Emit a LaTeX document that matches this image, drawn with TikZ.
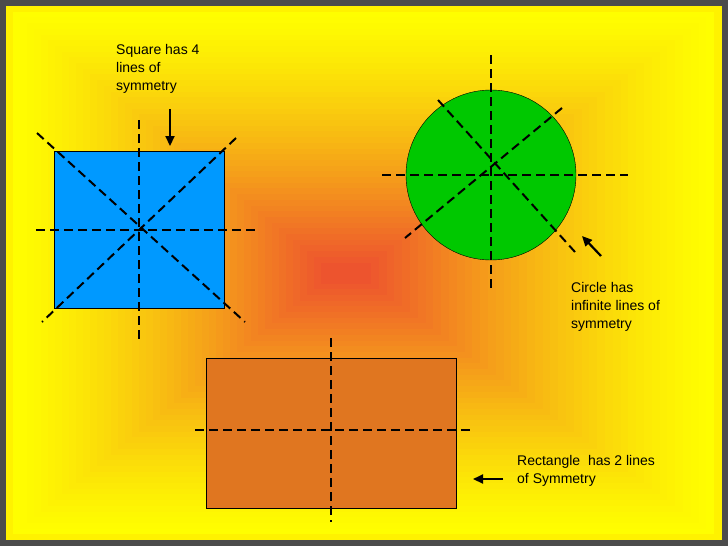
\documentclass[tikz,border=0pt]{standalone}
\usepackage{fontspec}
\setmainfont{Liberation Sans}
\usetikzlibrary{arrows.meta}
\begin{document}
\begin{tikzpicture}[x=1pt,y=-1pt,
  sym/.style={line width=2pt,dash pattern=on 9pt off 5pt},
  lbl/.style={anchor=north west,align=left,font=\fontsize{14}{18}\selectfont,inner sep=0pt},
  arr/.style={-{Triangle[length=10pt,width=9pt]},line width=2.2pt}]
\useasboundingbox (0,0) rectangle (728,546);
\fill[gray!60!black] (0,0) rectangle (728,546);
\fill[yellow] (6,6) rectangle (722,540);
\definecolor{cen}{rgb}{0.93,0.33,0.18}
\foreach \i in {0,...,45}{
  \pgfmathsetmacro{\p}{(\i/45)^1.3*100}
  \fill[cen!\p!yellow] ({6+\i*7},{6+\i*5.7}) rectangle ({722-\i*7.8},{540-\i*5.7});
}
% square
\node[draw,fill={rgb,255:red,0;green,153;blue,255},minimum width=170pt,minimum height=157pt,inner sep=0pt] (sq) at (139,230) {};
\coordinate (s1) at (139,120); \coordinate (s2) at (139,340);
\coordinate (s3) at (36,230); \coordinate (s4) at (255,230);
\coordinate (s5) at (37,133); \coordinate (s6) at (245,322);
\coordinate (s7) at (236,138); \coordinate (s8) at (42,322);
\draw[sym] (s1)--(s2); \draw[sym] (s3)--(s4); \draw[sym] (s5)--(s6); \draw[sym] (s7)--(s8);
% circle
\node[draw,circle,fill={rgb,255:red,0;green,200;blue,0},minimum size=170pt,inner sep=0pt] (ci) at (491,175) {};
\coordinate (c1) at (491,55); \coordinate (c2) at (491,290);
\coordinate (c3) at (382,175); \coordinate (c4) at (628,175);
\coordinate (c5) at (438,100); \coordinate (c6) at (575,252);
\coordinate (c7) at (562,108); \coordinate (c8) at (405,238);
\draw[sym] (c1)--(c2); \draw[sym] (c3)--(c4); \draw[sym] (c5)--(c6); \draw[sym] (c7)--(c8);
% rectangle
\node[draw,fill={rgb,255:red,224;green,118;blue,32},minimum width=250pt,minimum height=150pt,inner sep=0pt] (re) at (331,433) {};
\coordinate (r1) at (331,338); \coordinate (r2) at (331,522);
\coordinate (r3) at (195,430); \coordinate (r4) at (472,430);
\draw[sym] (r1)--(r2); \draw[sym] (r3)--(r4);
% labels
\node[lbl] (t1) at (116,44) {Square has 4\\lines of\\symmetry};
\node[lbl] (t2) at (571,282) {Circle has\\infinite lines of\\symmetry};
\node[lbl] (t3) at (517,455) {Rectangle\ \ has 2 lines\\of Symmetry};
\coordinate (a1) at (170,109); \coordinate (a2) at (170,146);
\coordinate (b1) at (601,256); \coordinate (b2) at (582,236);
\coordinate (d1) at (503,479); \coordinate (d2) at (473,479);
\draw[arr] (a1)--(a2); \draw[arr] (b1)--(b2); \draw[arr] (d1)--(d2);
\end{tikzpicture}
\end{document}
